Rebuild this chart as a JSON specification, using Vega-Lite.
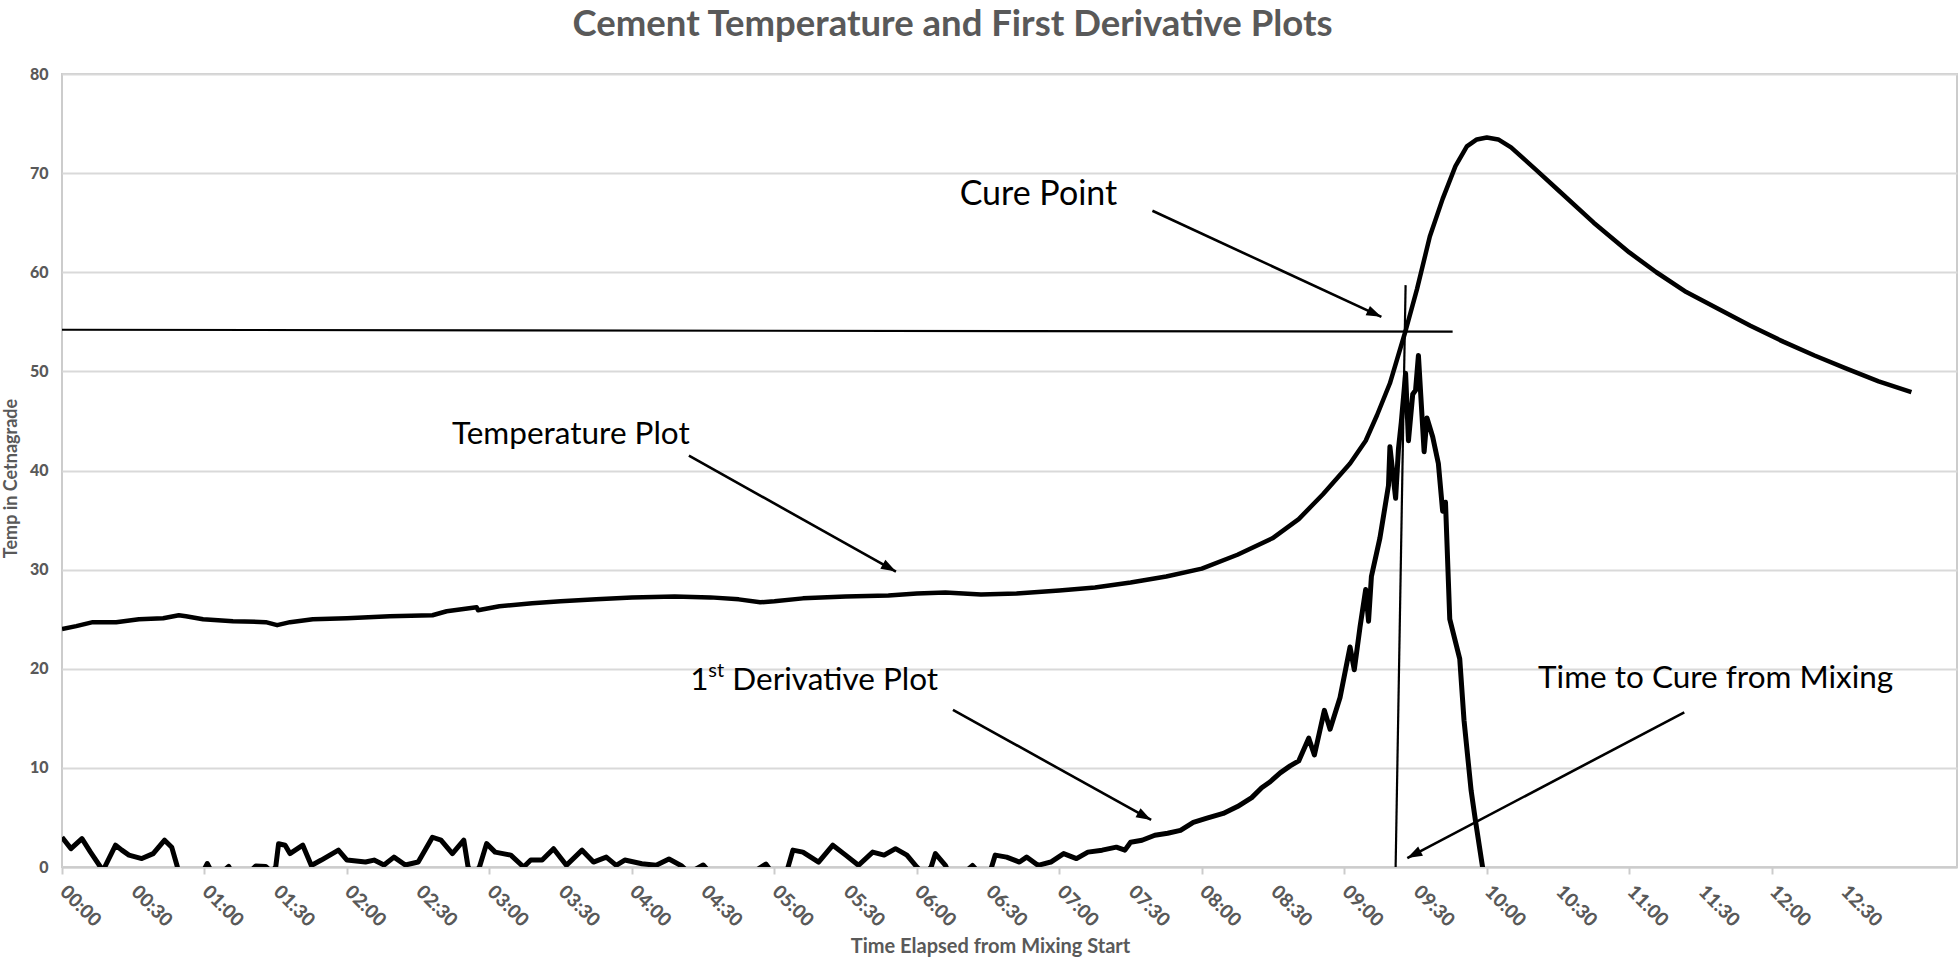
{
  "$schema": "https://vega.github.io/schema/vega-lite/v6.json",
  "width": 1895,
  "height": 793,
  "autosize": {"type": "none"},
  "padding": {"left": 62, "top": 74, "right": 3, "bottom": 95},
  "background": "white",
  "config": {
    "font": "Lato",
    "view": {"stroke": "#cccccc", "strokeWidth": 2}
  },
  "title": {
    "text": "Cement Temperature and First Derivative Plots",
    "font": "Lato",
    "fontSize": 36.5,
    "fontWeight": "bold",
    "color": "#595959",
    "anchor": "middle",
    "frame": "group",
    "dx": -57,
    "offset": 23
  },
  "datasets": {
    "temp": [
      {"h": 0, "v": 24.0}, {"h": 0.1, "v": 24.3}, {"h": 0.216, "v": 24.7}, {"h": 0.38, "v": 24.7},
      {"h": 0.54, "v": 25.0}, {"h": 0.71, "v": 25.1}, {"h": 0.82, "v": 25.4}, {"h": 0.87, "v": 25.3},
      {"h": 0.99, "v": 25.0}, {"h": 1.2, "v": 24.8}, {"h": 1.43, "v": 24.7}, {"h": 1.51, "v": 24.4},
      {"h": 1.6, "v": 24.7}, {"h": 1.76, "v": 25.0}, {"h": 2.0, "v": 25.1}, {"h": 2.3, "v": 25.3},
      {"h": 2.6, "v": 25.4}, {"h": 2.7, "v": 25.8}, {"h": 2.91, "v": 26.2}, {"h": 2.92, "v": 25.9},
      {"h": 3.07, "v": 26.3}, {"h": 3.3, "v": 26.6}, {"h": 3.5, "v": 26.8}, {"h": 3.75, "v": 27.0},
      {"h": 4.0, "v": 27.2}, {"h": 4.3, "v": 27.3}, {"h": 4.55, "v": 27.2}, {"h": 4.75, "v": 27.0},
      {"h": 4.9, "v": 26.7}, {"h": 5.0, "v": 26.8}, {"h": 5.2, "v": 27.1}, {"h": 5.5, "v": 27.3},
      {"h": 5.8, "v": 27.4}, {"h": 6.0, "v": 27.6}, {"h": 6.2, "v": 27.7}, {"h": 6.45, "v": 27.5},
      {"h": 6.7, "v": 27.6}, {"h": 7.0, "v": 27.9}, {"h": 7.25, "v": 28.2}, {"h": 7.5, "v": 28.7},
      {"h": 7.75, "v": 29.3}, {"h": 8.0, "v": 30.1}, {"h": 8.25, "v": 31.5}, {"h": 8.5, "v": 33.2},
      {"h": 8.68, "v": 35.1}, {"h": 8.85, "v": 37.6}, {"h": 9.04, "v": 40.7}, {"h": 9.15, "v": 43.0},
      {"h": 9.23, "v": 45.6}, {"h": 9.32, "v": 48.8}, {"h": 9.43, "v": 54.1}, {"h": 9.51, "v": 58.3},
      {"h": 9.6, "v": 63.6}, {"h": 9.69, "v": 67.4}, {"h": 9.78, "v": 70.7}, {"h": 9.86, "v": 72.7},
      {"h": 9.93, "v": 73.4}, {"h": 10.0, "v": 73.6}, {"h": 10.08, "v": 73.4}, {"h": 10.17, "v": 72.6},
      {"h": 10.34, "v": 70.4}, {"h": 10.5, "v": 68.3}, {"h": 10.75, "v": 65.0}, {"h": 11.0, "v": 62.0},
      {"h": 11.19, "v": 60.0}, {"h": 11.4, "v": 58.0}, {"h": 11.64, "v": 56.2}, {"h": 11.85, "v": 54.6},
      {"h": 12.08, "v": 53.0}, {"h": 12.3, "v": 51.6}, {"h": 12.52, "v": 50.3}, {"h": 12.75, "v": 49.0},
      {"h": 12.98, "v": 47.9}
    ],
    "deriv": [
      {"h": 0, "v": 3.0}, {"h": 0.063, "v": 1.85}, {"h": 0.14, "v": 2.86}, {"h": 0.2, "v": 1.5},
      {"h": 0.27, "v": 0}, {"h": 0.285, "v": -0.8}, {"h": 0.3, "v": 0}, {"h": 0.376, "v": 2.2},
      {"h": 0.42, "v": 1.7}, {"h": 0.47, "v": 1.2}, {"h": 0.56, "v": 0.85}, {"h": 0.64, "v": 1.35},
      {"h": 0.72, "v": 2.7}, {"h": 0.77, "v": 2.0}, {"h": 0.81, "v": 0}, {"h": 0.87, "v": -2},
      {"h": 0.95, "v": -1.5}, {"h": 1.0, "v": -0.2}, {"h": 1.02, "v": 0.35}, {"h": 1.05, "v": -0.5},
      {"h": 1.1, "v": -1.5}, {"h": 1.15, "v": -0.2}, {"h": 1.17, "v": 0.05}, {"h": 1.19, "v": -0.5},
      {"h": 1.27, "v": -1.2}, {"h": 1.36, "v": 0.1}, {"h": 1.43, "v": 0.05}, {"h": 1.47, "v": -0.5},
      {"h": 1.5, "v": 0}, {"h": 1.52, "v": 2.35}, {"h": 1.566, "v": 2.2}, {"h": 1.6, "v": 1.35},
      {"h": 1.69, "v": 2.2}, {"h": 1.75, "v": 0.15}, {"h": 1.82, "v": 0.7}, {"h": 1.94, "v": 1.7},
      {"h": 2.0, "v": 0.7}, {"h": 2.13, "v": 0.5}, {"h": 2.19, "v": 0.7}, {"h": 2.26, "v": 0.2},
      {"h": 2.33, "v": 1.0}, {"h": 2.41, "v": 0.2}, {"h": 2.5, "v": 0.5}, {"h": 2.6, "v": 3.0},
      {"h": 2.66, "v": 2.7}, {"h": 2.74, "v": 1.35}, {"h": 2.82, "v": 2.7}, {"h": 2.85, "v": 0},
      {"h": 2.89, "v": -0.8}, {"h": 2.93, "v": 0}, {"h": 2.98, "v": 2.36}, {"h": 3.04, "v": 1.5},
      {"h": 3.15, "v": 1.2}, {"h": 3.24, "v": 0}, {"h": 3.29, "v": 0.7}, {"h": 3.37, "v": 0.7},
      {"h": 3.45, "v": 1.85}, {"h": 3.54, "v": 0.17}, {"h": 3.65, "v": 1.7}, {"h": 3.73, "v": 0.5},
      {"h": 3.82, "v": 1.0}, {"h": 3.89, "v": 0.17}, {"h": 3.95, "v": 0.7}, {"h": 4.07, "v": 0.33},
      {"h": 4.17, "v": 0.17}, {"h": 4.26, "v": 0.8}, {"h": 4.35, "v": 0.1}, {"h": 4.4, "v": -0.6},
      {"h": 4.5, "v": 0.2}, {"h": 4.55, "v": -0.6}, {"h": 4.65, "v": -1.5}, {"h": 4.8, "v": -1.0},
      {"h": 4.94, "v": 0.3}, {"h": 4.98, "v": -0.5}, {"h": 5.09, "v": -0.3}, {"h": 5.13, "v": 1.7},
      {"h": 5.2, "v": 1.5}, {"h": 5.31, "v": 0.5}, {"h": 5.41, "v": 2.2}, {"h": 5.5, "v": 1.2},
      {"h": 5.59, "v": 0.17}, {"h": 5.69, "v": 1.5}, {"h": 5.77, "v": 1.2}, {"h": 5.85, "v": 1.85},
      {"h": 5.93, "v": 1.2}, {"h": 6.0, "v": 0}, {"h": 6.05, "v": -0.8}, {"h": 6.1, "v": 0},
      {"h": 6.13, "v": 1.35}, {"h": 6.2, "v": 0.17}, {"h": 6.23, "v": -0.8}, {"h": 6.3, "v": -1.0},
      {"h": 6.39, "v": 0.15}, {"h": 6.45, "v": -0.8}, {"h": 6.52, "v": -0.2}, {"h": 6.55, "v": 1.2},
      {"h": 6.63, "v": 1.0}, {"h": 6.72, "v": 0.5}, {"h": 6.77, "v": 1.0}, {"h": 6.85, "v": 0.17},
      {"h": 6.94, "v": 0.5}, {"h": 7.03, "v": 1.35}, {"h": 7.12, "v": 0.85}, {"h": 7.2, "v": 1.5},
      {"h": 7.3, "v": 1.7}, {"h": 7.4, "v": 2.0}, {"h": 7.46, "v": 1.7}, {"h": 7.5, "v": 2.5},
      {"h": 7.58, "v": 2.7}, {"h": 7.67, "v": 3.2}, {"h": 7.76, "v": 3.4}, {"h": 7.85, "v": 3.7},
      {"h": 7.94, "v": 4.5}, {"h": 8.03, "v": 4.9}, {"h": 8.15, "v": 5.4}, {"h": 8.25, "v": 6.1},
      {"h": 8.35, "v": 7.0}, {"h": 8.42, "v": 8.0}, {"h": 8.48, "v": 8.6}, {"h": 8.55, "v": 9.5},
      {"h": 8.62, "v": 10.2}, {"h": 8.68, "v": 10.7}, {"h": 8.75, "v": 13.0}, {"h": 8.79, "v": 11.3},
      {"h": 8.86, "v": 15.8}, {"h": 8.9, "v": 13.9}, {"h": 8.97, "v": 17.1}, {"h": 9.04, "v": 22.2},
      {"h": 9.07, "v": 19.9}, {"h": 9.11, "v": 24.2}, {"h": 9.15, "v": 28.0}, {"h": 9.17, "v": 24.8},
      {"h": 9.19, "v": 29.3}, {"h": 9.25, "v": 33.2}, {"h": 9.31, "v": 38.5}, {"h": 9.32, "v": 42.4},
      {"h": 9.36, "v": 37.2}, {"h": 9.38, "v": 42.2}, {"h": 9.4, "v": 44.9}, {"h": 9.43, "v": 49.8},
      {"h": 9.45, "v": 43.0}, {"h": 9.48, "v": 47.7}, {"h": 9.5, "v": 48.1}, {"h": 9.52, "v": 51.6},
      {"h": 9.56, "v": 41.9}, {"h": 9.58, "v": 45.3}, {"h": 9.62, "v": 43.4}, {"h": 9.66, "v": 40.7},
      {"h": 9.69, "v": 35.9}, {"h": 9.71, "v": 36.8}, {"h": 9.74, "v": 25.0}, {"h": 9.81, "v": 21.0},
      {"h": 9.84, "v": 14.8}, {"h": 9.89, "v": 7.7}, {"h": 9.92, "v": 4.7}, {"h": 9.97, "v": 0},
      {"h": 10.0, "v": -3}
    ],
    "guides": [
      {"name": "cure level", "h": 0, "v": 54.2, "h2": 9.76, "v2": 54.0},
      {"name": "tangent", "h": 9.36, "v": 0, "h2": 9.43, "v2": 58.7}
    ],
    "arrows": [
      {"id": "cure", "h": 9.26, "v": 55.5, "h0": 7.653, "v0": 66.2},
      {"id": "temp", "h": 5.853, "v": 29.8, "h0": 4.4, "v0": 41.5},
      {"id": "deriv", "h": 7.644, "v": 4.75, "h0": 6.253, "v0": 15.86},
      {"id": "time", "h": 9.442, "v": 0.9, "h0": 11.386, "v0": 15.6}
    ],
    "labels": [
      {"text": "Cure Point", "h": 6.3, "v": 67.8},
      {"text": "Temperature Plot", "h": 2.737, "v": 43.6},
      {"text": "Time to Cure from Mixing", "h": 10.36, "v": 19.0}
    ],
    "derivlabel": [
      {"lead": "1", "sup": "st", "rest": "Derivative Plot", "h": 4.41, "v": 18.8}
    ]
  },
  "encoding": {
    "x": {
      "field": "h",
      "type": "quantitative",
      "scale": {"domain": [0, 13.3], "nice": false, "zero": false},
      "axis": {
        "title": "Time Elapsed from Mixing Start",
        "titleFont": "Lato",
        "titleFontSize": 20,
        "titleFontWeight": "bold",
        "titleColor": "#595959",
        "titleX": 928,
        "titleY": 79,
        "titleAnchor": null,
        "titleAlign": "center",
        "titleBaseline": "middle",
        "values": [0, 0.5, 1, 1.5, 2, 2.5, 3, 3.5, 4, 4.5, 5, 5.5, 6, 6.5, 7, 7.5, 8, 8.5, 9, 9.5, 10, 10.5, 11, 11.5, 12, 12.5],
        "labelExpr": "(datum.value < 10 ? '0' : '') + floor(datum.value) + ':' + (datum.value % 1 ? '30' : '00')",
        "labelAngle": 45,
        "labelAlign": "left",
        "labelBaseline": "top",
        "labelPadding": 8,
        "labelOffset": 7,
        "labelFont": "Lato",
        "labelFontSize": 19,
        "labelFontWeight": 900,
        "labelColor": "#595959",
        "labelOverlap": false,
        "labelFlush": false,
        "labelBound": false,
        "grid": false,
        "domainColor": "#cccccc",
        "domainWidth": 2,
        "tickColor": "#cccccc",
        "tickWidth": 2,
        "tickSize": 7,
        "tickOpacity": {"condition": {"test": "datum.value % 1 === 0", "value": 1}, "value": 0}
      }
    },
    "y": {
      "field": "v",
      "type": "quantitative",
      "scale": {"domain": [0, 80], "nice": false},
      "axis": {
        "title": "Temp in Cetnagrade",
        "titleFont": "Lato",
        "titleFontSize": 18,
        "titleFontWeight": "bold",
        "titleColor": "#595959",
        "titleX": -51,
        "titleY": 404,
        "titleAngle": -90,
        "titleAlign": "center",
        "titleBaseline": "middle",
        "values": [0, 10, 20, 30, 40, 50, 60, 70, 80],
        "labelFont": "Lato",
        "labelFontSize": 16,
        "labelFontWeight": 900,
        "labelColor": "#595959",
        "labelPadding": 14,
        "ticks": false,
        "domain": false,
        "grid": true,
        "gridColor": "#d9d9d9",
        "gridWidth": 2
      }
    }
  },
  "layer": [
    {
      "data": {"name": "temp"},
      "mark": {"type": "line", "color": "black", "strokeWidth": 4.5, "clip": true, "strokeJoin": "round"}
    },
    {
      "data": {"name": "deriv"},
      "mark": {"type": "line", "color": "black", "strokeWidth": 5, "clip": true, "strokeJoin": "round"}
    },
    {
      "data": {"name": "guides"},
      "mark": {"type": "rule", "color": "black", "strokeWidth": 2.2},
      "encoding": {"x2": {"field": "h2"}, "y2": {"field": "v2"}}
    },
    {
      "data": {"name": "arrows"},
      "mark": {"type": "rule", "color": "black", "strokeWidth": 2.6},
      "encoding": {"x2": {"field": "h0"}, "y2": {"field": "v0"}}
    },
    {
      "data": {"name": "arrows"},
      "transform": [{"filter": "datum.id === 'cure'"}],
      "mark": {"type": "point", "shape": "M0,0L0.55,1.6L-0.55,1.6Z", "filled": true, "color": "black", "opacity": 1, "size": 350, "angle": 114.8}
    },
    {
      "data": {"name": "arrows"},
      "transform": [{"filter": "datum.id === 'temp'"}],
      "mark": {"type": "point", "shape": "M0,0L0.55,1.6L-0.55,1.6Z", "filled": true, "color": "black", "opacity": 1, "size": 350, "angle": 119.2}
    },
    {
      "data": {"name": "arrows"},
      "transform": [{"filter": "datum.id === 'deriv'"}],
      "mark": {"type": "point", "shape": "M0,0L0.55,1.6L-0.55,1.6Z", "filled": true, "color": "black", "opacity": 1, "size": 350, "angle": 119}
    },
    {
      "data": {"name": "arrows"},
      "transform": [{"filter": "datum.id === 'time'"}],
      "mark": {"type": "point", "shape": "M0,0L0.55,1.6L-0.55,1.6Z", "filled": true, "color": "black", "opacity": 1, "size": 350, "angle": 242.3}
    },
    {
      "data": {"name": "labels"},
      "transform": [{"filter": "datum.text === 'Cure Point'"}],
      "mark": {"type": "text", "font": "Lato", "fontSize": 34, "color": "black", "align": "left", "baseline": "middle"},
      "encoding": {"text": {"field": "text"}}
    },
    {
      "data": {"name": "labels"},
      "transform": [{"filter": "datum.text !== 'Cure Point'"}],
      "mark": {"type": "text", "font": "Lato", "fontSize": 31.5, "color": "black", "align": "left", "baseline": "middle"},
      "encoding": {"text": {"field": "text"}}
    },
    {
      "data": {"name": "derivlabel"},
      "mark": {"type": "text", "font": "Lato", "fontSize": 31.5, "color": "black", "align": "left", "baseline": "middle"},
      "encoding": {"text": {"field": "lead"}}
    },
    {
      "data": {"name": "derivlabel"},
      "mark": {"type": "text", "font": "Lato", "fontSize": 20, "color": "black", "align": "left", "baseline": "middle", "dx": 18, "dy": -10},
      "encoding": {"text": {"field": "sup"}}
    },
    {
      "data": {"name": "derivlabel"},
      "mark": {"type": "text", "font": "Lato", "fontSize": 31.5, "color": "black", "align": "left", "baseline": "middle", "dx": 42},
      "encoding": {"text": {"field": "rest"}}
    }
  ]
}
